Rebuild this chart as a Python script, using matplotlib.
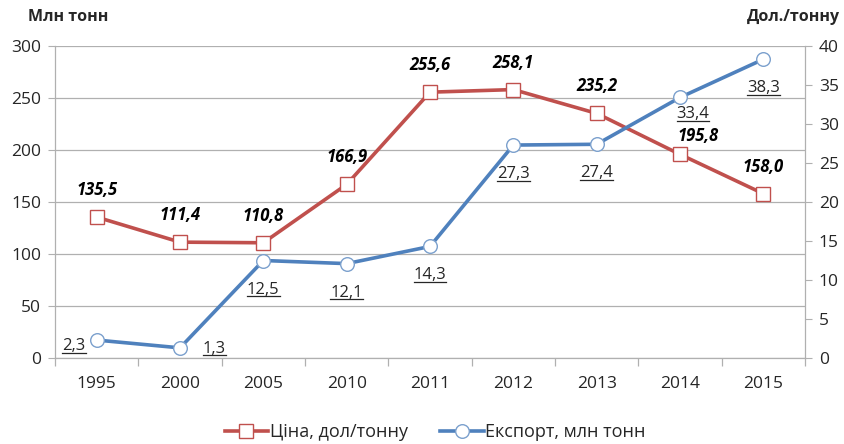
import matplotlib
matplotlib.use("Agg")
import matplotlib.pyplot as plt
from matplotlib.lines import Line2D

plt.rcParams['font.family'] = ['Open Sans', 'DejaVu Sans']

years = ["1995", "2000", "2005", "2010", "2011", "2012", "2013", "2014", "2015"]
price = [135.5, 111.4, 110.8, 166.9, 255.6, 258.1, 235.2, 195.8, 158.0]
export = [2.3, 1.3, 12.5, 12.1, 14.3, 27.3, 27.4, 33.4, 38.3]
price_name = "Ціна, дол/тонну"
export_name = "Експорт, млн тонн"
left_title = "Млн тонн"
right_title = "Дол./тонну"

RED = "#C0504D"
BLUE = "#4F81BD"
BLUE_EDGE = "#7BA0CD"
GRID = "#B0B0B0"
TXT = "#262626"

fig = plt.figure(figsize=(8.45, 4.44), dpi=100)
ax = fig.add_axes([55/845, 86/444, 750/845, 312/444])
ax2 = ax.twinx()

x = list(range(len(years)))
ax.set_xlim(-0.5, len(years) - 0.5)
ax.set_ylim(0, 300)
ax2.set_ylim(0, 40)
ax.set_yticks(range(0, 301, 50))
ax2.set_yticks(range(0, 41, 5))
ax.grid(axis='y', color=GRID, linewidth=0.9)
ax.set_axisbelow(True)

for a in (ax, ax2):
    a.spines['top'].set_visible(False)
    for s in ('left', 'right', 'bottom'):
        a.spines[s].set_color(GRID)
        a.spines[s].set_linewidth(0.9)
ax.spines['right'].set_visible(False)
ax2.spines['left'].set_visible(False)
ax2.spines['bottom'].set_visible(False)

ax.tick_params(axis='y', length=5, color=GRID, labelsize=12.5, labelcolor=TXT, pad=5)
ax2.tick_params(axis='y', length=5, color=GRID, labelsize=12.5, labelcolor=TXT, pad=5)

ax.set_xticks(x)
ax.set_xticklabels(years)
ax.tick_params(axis='x', length=0, labelsize=12.5, labelcolor=TXT, pad=13)
ax.set_xticks([i - 0.5 for i in range(len(years) + 1)], minor=True)
ax.tick_params(axis='x', which='minor', length=6, color=GRID, width=0.9)

lp, = ax.plot(x, price, color=RED, linewidth=2.6, marker='s', markersize=9.5,
              markerfacecolor='white', markeredgecolor=RED, markeredgewidth=1.0,
              label=price_name, zorder=3)
le, = ax2.plot(x, export, color=BLUE, linewidth=2.6, marker='o', markersize=9.8,
               markerfacecolor='white', markeredgecolor=BLUE_EDGE, markeredgewidth=1.0,
               label=export_name, zorder=3)

def fmt(v):
    return f"{v:.1f}".replace('.', ',')

# price label offsets in pixels (dx, dy)
p_offs = [(0, 27)] * 7 + [(18, 18), (0, 27)]
for i, v in enumerate(price):
    dx, dy = p_offs[i]
    ax2.annotate(fmt(v), (i, v * 40 / 300), xytext=(dx, dy), textcoords='offset pixels',
                 ha='center', va='center', fontsize=12, fontweight='bold',
                 fontstyle='italic', color='black', zorder=5)

# export label offsets in pixels (dx, dy, ha)
e_offs = [(-11, -6, 'right'), (23, -1, 'left')] + [(0, -29, 'center')] * 5 + \
         [(13, -17, 'center'), (0, -29, 'center')]
ex_texts = []
for i, v in enumerate(export):
    dx, dy, ha = e_offs[i]
    t = ax2.annotate(fmt(v), (i, v), xytext=(dx, dy), textcoords='offset pixels',
                     ha=ha, va='center', fontsize=12, color=TXT, zorder=5)
    ex_texts.append(t)

fig.text(28/845, 1 - 17/444, left_title, ha='left', va='center', fontsize=11.5,
         fontweight='bold', color=TXT)
fig.text(840/845, 1 - 17/444, right_title, ha='right', va='center', fontsize=11.5,
         fontweight='bold', color=TXT)

fig.legend(handles=[lp, le], loc='center', bbox_to_anchor=(0.515, 1 - 432/444),
           ncol=2, frameon=False, fontsize=13, handlelength=2.4, handletextpad=0.1,
           columnspacing=1.8, labelcolor=TXT)

# underline export labels
fig.canvas.draw()
r = fig.canvas.get_renderer()
W = fig.dpi * fig.get_figwidth()
H = fig.dpi * fig.get_figheight()
for t in ex_texts:
    bb = t.get_window_extent(renderer=r)
    y0 = bb.y0 + 1.5
    fig.add_artist(Line2D([bb.x0 / W, bb.x1 / W], [y0 / H] * 2,
                          transform=fig.transFigure, color=TXT, linewidth=0.9))

fig.savefig("out.png", dpi=100)
